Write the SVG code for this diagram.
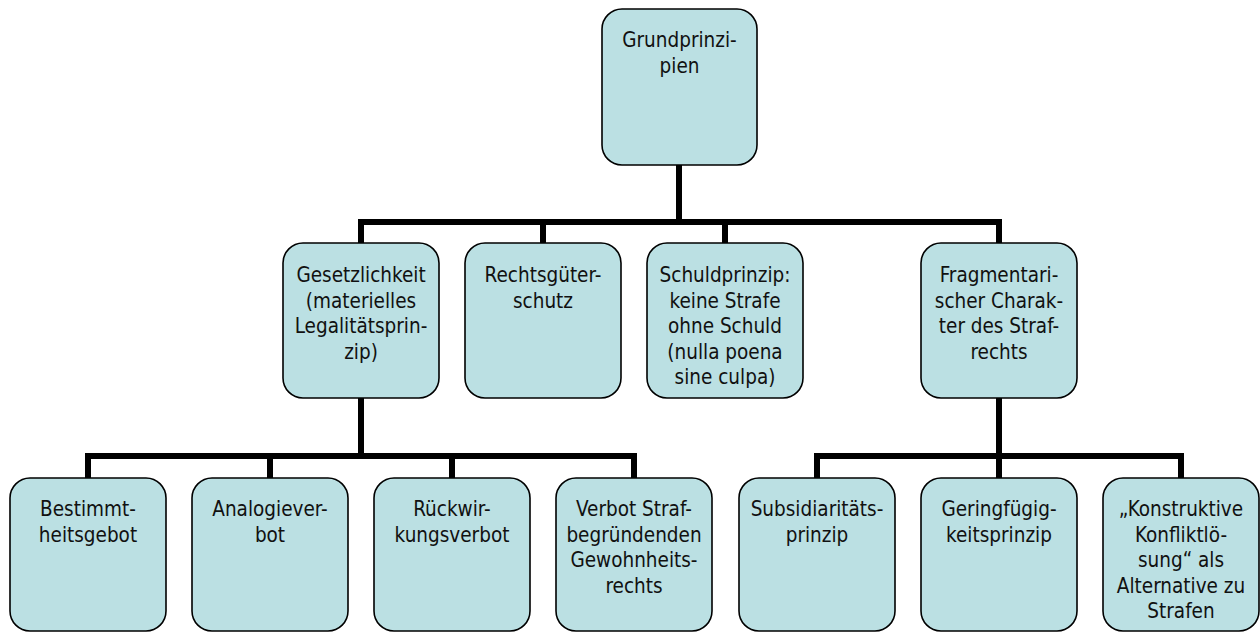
<svg xmlns="http://www.w3.org/2000/svg" width="1260" height="632" viewBox="0 0 1260 632">
<style>
.box{fill:#bbe0e3;stroke:#000;stroke-width:1.6}
.t{font-family:"DejaVu Sans Condensed","DejaVu Sans","Liberation Sans",sans-serif;font-stretch:condensed;font-size:20.5px;fill:#111;text-anchor:middle}
.c{fill:none;stroke:#000;stroke-width:6;stroke-linejoin:miter}
</style>
<rect width="1260" height="632" fill="#fff"/>
<g id="connectors">
<path class="c" d="M679,165 V222"/>
<path class="c" d="M361,243 V222 H999 V243"/>
<path class="c" d="M543,222 V243"/>
<path class="c" d="M725,222 V243"/>
<path class="c" d="M361,398 V456"/>
<path class="c" d="M88,478 V456 H634 V478"/>
<path class="c" d="M270,456 V478"/>
<path class="c" d="M452,456 V478"/>
<path class="c" d="M999,398 V478"/>
<path class="c" d="M817,478 V456 H1181 V478"/>
</g>
<g id="n-grundprinzipien">
<rect class="box" x="602" y="9" width="155" height="156" rx="20"/>
<text class="t"><tspan x="679.5" y="47">Grundprinzi-</tspan><tspan x="679.5" y="72.5">pien</tspan></text>
</g>
<g id="n-gesetzlichkeit">
<rect class="box" x="283" y="243" width="156" height="155" rx="20"/>
<text class="t"><tspan x="361" y="282">Gesetzlichkeit</tspan><tspan x="361" y="307.5">(materielles</tspan><tspan x="361" y="333">Legalitätsprin-</tspan><tspan x="361" y="358.5">zip)</tspan></text>
</g>
<g id="n-rechtsgueterschutz">
<rect class="box" x="465" y="243" width="156" height="155" rx="20"/>
<text class="t"><tspan x="543" y="282">Rechtsgüter-</tspan><tspan x="543" y="307.5">schutz</tspan></text>
</g>
<g id="n-schuldprinzip">
<rect class="box" x="647" y="243" width="156" height="155" rx="20"/>
<text class="t"><tspan x="725" y="282">Schuldprinzip:</tspan><tspan x="725" y="307.5">keine Strafe</tspan><tspan x="725" y="333">ohne Schuld</tspan><tspan x="725" y="358.5">(nulla poena</tspan><tspan x="725" y="384">sine culpa)</tspan></text>
</g>
<g id="n-fragmentarisch">
<rect class="box" x="921" y="243" width="156" height="155" rx="20"/>
<text class="t"><tspan x="999" y="282">Fragmentari-</tspan><tspan x="999" y="307.5">scher Charak-</tspan><tspan x="999" y="333">ter des Straf-</tspan><tspan x="999" y="358.5">rechts</tspan></text>
</g>
<g id="n-bestimmtheitsgebot">
<rect class="box" x="10" y="478" width="156" height="153" rx="20"/>
<text class="t"><tspan x="88" y="516">Bestimmt-</tspan><tspan x="88" y="541.5">heitsgebot</tspan></text>
</g>
<g id="n-analogieverbot">
<rect class="box" x="192" y="478" width="156" height="153" rx="20"/>
<text class="t"><tspan x="270" y="516">Analogiever-</tspan><tspan x="270" y="541.5">bot</tspan></text>
</g>
<g id="n-rueckwirkungsverbot">
<rect class="box" x="374" y="478" width="156" height="153" rx="20"/>
<text class="t"><tspan x="452" y="516">Rückwir-</tspan><tspan x="452" y="541.5">kungsverbot</tspan></text>
</g>
<g id="n-gewohnheitsrecht">
<rect class="box" x="556" y="478" width="156" height="153" rx="20"/>
<text class="t"><tspan x="634" y="516">Verbot Straf-</tspan><tspan x="634" y="541.5">begründenden</tspan><tspan x="634" y="567">Gewohnheits-</tspan><tspan x="634" y="592.5">rechts</tspan></text>
</g>
<g id="n-subsidiaritaet">
<rect class="box" x="739" y="478" width="156" height="153" rx="20"/>
<text class="t"><tspan x="817" y="516">Subsidiaritäts-</tspan><tspan x="817" y="541.5">prinzip</tspan></text>
</g>
<g id="n-geringfuegigkeit">
<rect class="box" x="921" y="478" width="156" height="153" rx="20"/>
<text class="t"><tspan x="999" y="516">Geringfügig-</tspan><tspan x="999" y="541.5">keitsprinzip</tspan></text>
</g>
<g id="n-konfliktloesung">
<rect class="box" x="1103" y="478" width="156" height="153" rx="20"/>
<text class="t"><tspan x="1181" y="516">„Konstruktive</tspan><tspan x="1181" y="541.5">Konfliktlö-</tspan><tspan x="1181" y="567">sung“ als</tspan><tspan x="1181" y="592.5">Alternative zu</tspan><tspan x="1181" y="618">Strafen</tspan></text>
</g>
</svg>
